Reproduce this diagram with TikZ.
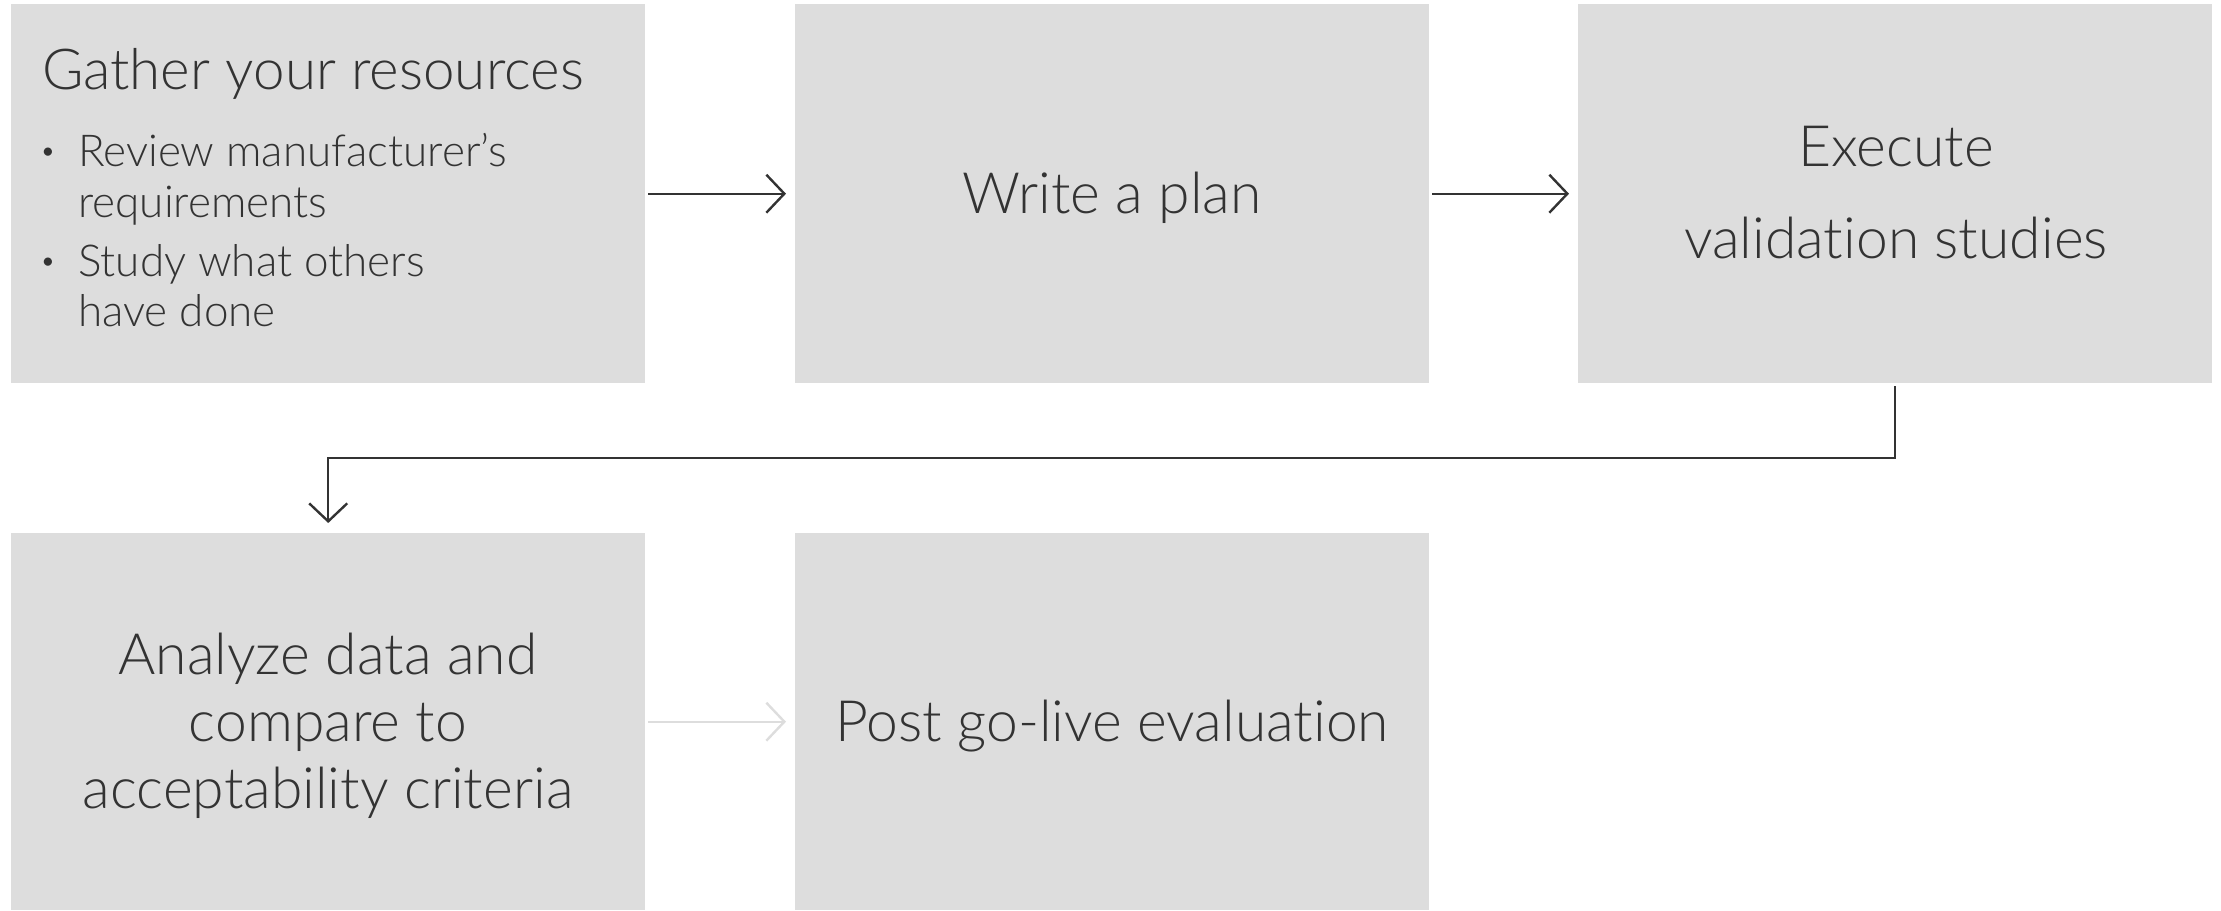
\documentclass[tikz,border=0pt]{standalone}
\usepackage{fontspec}
\setmainfont{Lato}[UprightFont={* Light},Ligatures={NoCommon,NoRare,NoDiscretionary}]
\usetikzlibrary{arrows.meta}
\definecolor{boxgray}{HTML}{DDDDDD}
\definecolor{ink}{HTML}{333333}
\begin{document}
\begin{tikzpicture}[x=1pt,y=-1pt,
  stepbox/.style={fill=boxgray,draw=none,minimum width=634pt,minimum height=379pt,inner sep=0pt,anchor=north west},
  bigtxt/.style={text=ink,font=\fontsize{57}{68}\selectfont,anchor=base,inner sep=0pt},
  smalltxt/.style={text=ink,font=\fontsize{44}{50}\selectfont,anchor=base west,inner sep=0pt},
  dottxt/.style={text=ink,font=\fontsize{28}{30}\selectfont,anchor=base,inner sep=0pt},
  flow/.style={draw=ink,line width=2.4pt,-{Straight Barb[length=18pt,width=38pt,line width=2.4pt]}},
  faintflow/.style={draw=boxgray,line width=2.4pt,-{Straight Barb[length=18pt,width=38pt,line width=2.4pt]}}]
\useasboundingbox (0,0) rectangle (2221,910);
\node[stepbox] (b1) at (11,4) {};
\node[stepbox] (b2) at (795,4) {};
\node[stepbox] (b3) at (1578,4) {};
\node[stepbox,minimum height=377pt] (b4) at (11,533) {};
\node[stepbox,minimum height=377pt] (b5) at (795,533) {};
% texts
\node[text=ink,anchor=base west,inner sep=0pt,font=\fontsize{56.5}{60}\selectfont] (t1) at (42,89) {Gather your resources};
\node[smalltxt] (t1a) at (78,166) {Review manufacturer’s};
\node[smalltxt] (t1b) at (78,217) {requirements};
\node[smalltxt] (t1c) at (78,276) {Study what others};
\node[smalltxt] (t1d) at (78,326) {have done};
\node[dottxt] (d1) at (48,160) {•};
\node[dottxt] (d2) at (48,270) {•};
\node[bigtxt] (t2) at (1112,213) {Write a plan};
\node[bigtxt] (t3a) at (1896,166) {Execute};
\node[bigtxt] (t3b) at (1896,258) {validation studies};
\node[bigtxt] (t4a) at (328,674) {Analyze data and};
\node[bigtxt] (t4b) at (328,741) {compare to};
\node[bigtxt] (t4c) at (328,808) {acceptability criteria};
\node[bigtxt] (t5) at (1112,741) {Post go-live evaluation};
% connectors
\draw[flow,shorten <=3pt,shorten >=9pt] (b1.east) -- (b2.west);
\draw[flow,shorten <=3pt,shorten >=9pt] (b2.east) -- (b3.west);
\coordinate (elbow) at (0,458);
\draw[flow,shorten <=3pt,shorten >=10pt] (b3.south) -- (b3.south |- elbow) -- (b4.north |- elbow) -- (b4.north);
\draw[faintflow,shorten <=3pt,shorten >=9pt] (b4.east) -- (b5.west);
\end{tikzpicture}
\end{document}
